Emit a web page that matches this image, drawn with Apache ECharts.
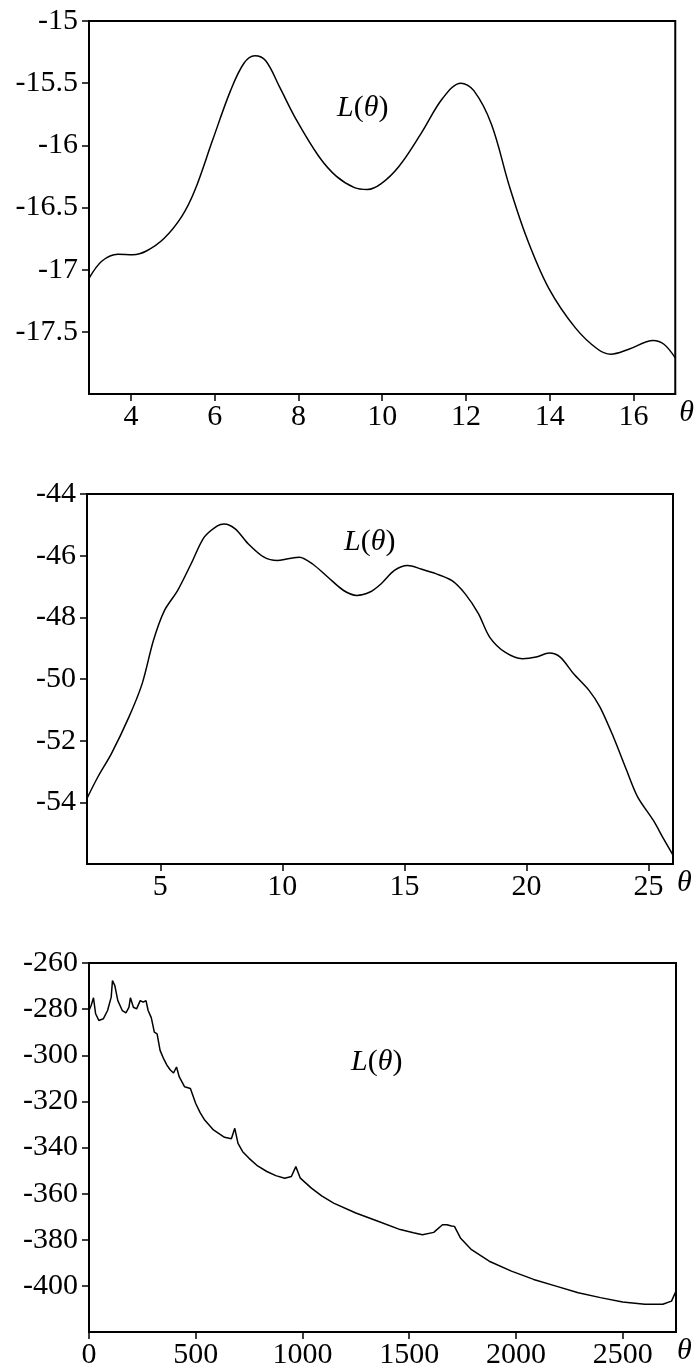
<!DOCTYPE html>
<html>
<head>
<meta charset="utf-8">
<script src="https://cdn.jsdelivr.net/npm/echarts@6/dist/echarts.min.js"></script>
<style>
  html, body { margin: 0; padding: 0; background: #fff; }
  #chart { width: 695px; height: 1372px; }
</style>
</head>
<body>
<div id="chart"></div>
<script>
// panel 1: L(theta) on 3..17
var theta1 = [3.0, 3.31, 3.69, 4.05, 4.37, 4.79, 5.22, 5.53, 5.95, 6.38, 6.70, 6.96, 7.22, 7.55, 7.96,
  8.49, 8.91, 9.34, 9.65, 9.97, 10.40, 10.92, 11.45, 11.88, 12.19, 12.61, 13.04, 13.46, 13.98,
  14.62, 15.15, 15.46, 15.89, 16.47, 16.73, 17.0];
var logL1 = [-17.07, -16.93, -16.875, -16.88, -16.85, -16.75, -16.57, -16.36, -15.96, -15.56, -15.34, -15.28, -15.32, -15.53, -15.80,
  -16.09, -16.25, -16.34, -16.355, -16.31, -16.17, -15.91, -15.62, -15.50, -15.56, -15.83, -16.33, -16.75, -17.15,
  -17.47, -17.64, -17.68, -17.64, -17.57, -17.60, -17.71];

// panel 2: L(theta) on 2..26
var theta2 = [2.0, 2.45, 3.0, 3.72, 4.26, 4.72, 5.17, 5.71, 6.26, 6.80, 7.34, 7.62, 8.07, 8.61, 9.25,
  9.79, 10.24, 10.70, 11.24, 11.87, 12.51, 13.05, 13.59, 14.05, 14.59, 15.13, 15.68, 16.31, 16.95,
  17.49, 18.03, 18.49, 19.12, 19.84, 20.39, 20.93, 21.38, 21.93, 22.56, 23.01, 23.56, 24.10, 24.55,
  25.19, 25.64, 26.0];
var logL2 = [-53.87, -53.17, -52.42, -51.23, -50.15, -48.75, -47.78, -47.13, -46.27, -45.40, -45.03, -44.97, -45.13, -45.62, -46.05,
  -46.16, -46.10, -46.05, -46.27, -46.70, -47.13, -47.29, -47.18, -46.91, -46.48, -46.32, -46.43, -46.59, -46.81,
  -47.24, -47.88, -48.64, -49.13, -49.34, -49.29, -49.16, -49.29, -49.83, -50.37, -50.91, -51.88, -52.96, -53.82,
  -54.58, -55.22, -55.71];

// panel 3: L(theta) on 0..2750, with spikes
var theta3 = [0, 10, 21, 31, 46, 67, 87, 104, 110, 121, 135, 156, 173, 187, 194, 208, 223, 240, 254, 267,
  277, 292, 306, 319, 333, 350, 365, 380, 396, 410, 423, 448, 475, 500, 520, 542, 583, 635, 667, 683, 698, 720, 750, 790, 833,
  875, 917, 948, 969, 990, 1042, 1090, 1146, 1250, 1354, 1458, 1520, 1562, 1615, 1656, 1677, 1698, 1712, 1740, 1792, 1875,
  1979, 2083, 2188, 2292, 2396, 2500, 2604, 2688, 2729, 2750];
var logL3 = [-280.6, -278.4, -275.1, -282.0, -284.9, -284.2, -280.6, -274.8, -267.6, -269.8, -276.3, -280.6, -281.6, -279.2, -275.1, -279.2, -279.9, -276.3, -277.0, -276.3,
  -280.6, -283.8, -290.0, -290.7, -297.9, -301.6, -304.3, -306.3, -307.7, -305.1, -309.4, -313.7, -314.4, -320.9, -324.8, -328.1, -332.4, -335.6, -336.2, -331.7, -338.2, -341.8, -344.7, -348.0, -350.4,
  -352.2, -353.3, -352.6, -348.3, -353.3, -357.6, -361.0, -364.1, -368.4, -372.0, -375.6, -377.0, -377.8, -376.8, -373.5, -373.5, -374.0, -374.2, -379.2, -384.3, -389.3,
  -393.6, -397.2, -400.1, -403.0, -405.1, -407.0, -408.0, -408.0, -406.6, -402.3];

// tick labels
var xTicks1 = [4, 6, 8, 10, 12, 14, 16];
var yTicks1 = [-15, -15.5, -16, -16.5, -17, -17.5];
var xTicks2 = [5, 10, 15, 20, 25];
var yTicks2 = [-44, -46, -48, -50, -52, -54];
var xTicks3 = [0, 500, 1000, 1500, 2000, 2500];
var yTicks3 = [-260, -280, -300, -320, -340, -360, -380, -400];

var serif = '"Liberation Serif", "DejaVu Serif", serif';

function pairs(xs, ys) {
  return xs.map(function (x, i) { return [x, ys[i]]; });
}

function plain(v) { return String(v); }

function xAxisFor(idx, min, max, ticks, gap) {
  return {
    type: 'value', gridIndex: idx, min: min, max: max,
    name: 'θ', nameLocation: 'end', nameGap: gap,
    nameTextStyle: { fontFamily: serif, fontSize: 30, fontStyle: 'italic', color: '#000',
      verticalAlign: 'top', padding: [4, 0, 0, 0] },
    splitLine: { show: false },
    axisLine: { show: true, lineStyle: { color: '#000', width: 2 } },
    axisTick: { show: true, length: 7, lineStyle: { color: '#000', width: 1.5 }, customValues: ticks },
    axisLabel: { fontFamily: serif, fontSize: 30, color: '#000', margin: 8, customValues: ticks, formatter: plain }
  };
}

function yAxisFor(idx, min, max, ticks) {
  return {
    type: 'value', gridIndex: idx, min: min, max: max,
    splitLine: { show: false },
    axisLine: { show: true, lineStyle: { color: '#000', width: 2 } },
    axisTick: { show: true, length: 7, lineStyle: { color: '#000', width: 1.5 }, customValues: ticks },
    axisLabel: { fontFamily: serif, fontSize: 30, color: '#000', margin: 11, customValues: ticks, formatter: plain }
  };
}

function labelTitle(left, top) {
  return {
    left: left, top: top,
    text: '{it|L}{up|(}{it|θ}{up|)}',
    textStyle: {
      fontWeight: 'normal',
      rich: {
        it: { fontFamily: serif, fontSize: 30, fontStyle: 'italic', fontWeight: 'normal', color: '#000' },
        up: { fontFamily: serif, fontSize: 30, fontWeight: 'normal', color: '#000' }
      }
    }
  };
}

function lineSeries(idx, data, smooth) {
  return {
    type: 'line', xAxisIndex: idx, yAxisIndex: idx,
    data: data, showSymbol: false, smooth: smooth,
    lineStyle: { color: '#000', width: 1.5 }
  };
}

var chart = echarts.init(document.getElementById('chart'), null, { renderer: 'canvas' });

var gridStyle = { show: true, borderColor: '#000', borderWidth: 2, backgroundColor: 'transparent' };

var option = {
  backgroundColor: '#fff',
  animation: false,
  title: [labelTitle(332, 88), labelTitle(339, 522), labelTitle(346, 1042)],
  grid: [
    Object.assign({ left: 89, top: 21, width: 588, height: 373 }, gridStyle),
    Object.assign({ left: 87, top: 494, width: 586, height: 370 }, gridStyle),
    Object.assign({ left: 89, top: 963, width: 587, height: 369 }, gridStyle)
  ],
  xAxis: [
    xAxisFor(0, 3, 17, xTicks1, 4),
    xAxisFor(1, 2, 26, xTicks2, 4),
    xAxisFor(2, 0, 2750, xTicks3, 1)
  ],
  yAxis: [
    yAxisFor(0, -18, -15, yTicks1),
    yAxisFor(1, -56, -44, yTicks2),
    yAxisFor(2, -420, -260, yTicks3)
  ],
  series: [
    lineSeries(0, pairs(theta1, logL1), 0.35),
    lineSeries(1, pairs(theta2, logL2), 0.3),
    lineSeries(2, pairs(theta3, logL3), false)
  ]
};

chart.setOption(option);
</script>
</body>
</html>
